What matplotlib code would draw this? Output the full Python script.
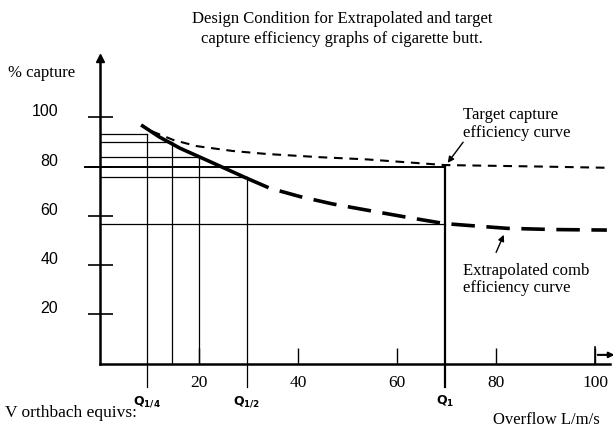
import matplotlib
matplotlib.use('Agg')
import matplotlib.pyplot as plt
import matplotlib.transforms as mtransforms

# Values (flow in L/m/s, capture in %)
comb_x = [8.3, 12.0, 16.2, 20.0, 24.2, 29.7, 34.3, 40.4, 47.0, 53.9, 62.0, 69.7, 82.2, 92.0, 102.4]
comb_y = [96.9, 92.0, 87.4, 84.0, 80.2, 75.2, 71.2, 67.8, 64.8, 62.3, 59.4, 56.8, 54.9, 54.4, 54.2]
target_x = [10.5, 14.8, 19.5, 26.9, 33.7, 44.4, 53.9, 69.7, 88.9, 102.4]
target_y = [94.3, 90.8, 88.3, 86.3, 85.1, 83.8, 82.9, 80.6, 80.0, 79.5]
solid_until = 29.7

# construction lines: (capture level, flow where they stop)
guide_levels = [93.1, 89.8, 84.0, 75.8]
guide_flows = [9.5, 14.6, 20.0, 29.7]
q1 = 69.7
q1_levels = [80.0, 56.8]

x_ticks = [20, 40, 60, 80, 100]
y_ticks = [20, 40, 60, 80, 100]
q_pos = [9.5, 29.7, 69.7]
q_labels = [r'$\mathbf{Q_{1/4}}$', r'$\mathbf{Q_{1/2}}$', r'$\mathbf{Q_{1}}$']

serif = 'Liberation Serif'
sans = 'Liberation Sans'

fig = plt.figure(figsize=(6.13, 4.29), dpi=100)
ax = fig.add_axes([100 / 613, (429 - 363.5) / 429, 103 * 4.95 / 613, 124 * 2.462 / 429])
ax.set_xlim(0, 103)
ax.set_ylim(0, 124)

for s in ['top', 'right']:
    ax.spines[s].set_visible(False)
for s in ['left', 'bottom']:
    ax.spines[s].set_linewidth(1.8)

# axis arrows
ax.plot(0, 1, '^k', ms=6, transform=ax.get_xaxis_transform(), clip_on=False)
ax.annotate('', xy=(104.5, 3.5), xytext=(100, 3.5), annotation_clip=False,
            arrowprops=dict(arrowstyle='-|>', color='k', lw=1.5, mutation_scale=8))
ax.plot([100, 100], [0, 6.5], color='k', lw=1.2)

ax.set_xticks(x_ticks)
ax.set_xticklabels([str(t) for t in x_ticks], fontfamily=serif, fontsize=12.5)
ax.tick_params(axis='x', direction='in', length=11.5, width=1.0, pad=8)
ax.set_yticks(y_ticks)
ax.set_yticklabels([str(t) for t in y_ticks], fontfamily=sans, fontsize=11.5)
ax.tick_params(axis='y', direction='inout', length=18, width=1.2, pad=21)
shift = mtransforms.ScaledTranslation(0, 5 / 72, fig.dpi_scale_trans)
for lbl in ax.get_yticklabels():
    lbl.set_transform(lbl.get_transform() + shift)

# construction lines
for lev, fl in zip(guide_levels, guide_flows):
    ax.plot([0, fl], [lev, lev], color='k', lw=0.9)
    ax.plot([fl, fl], [0, lev], color='k', lw=0.9)
ax.plot([-3, q1], [q1_levels[0], q1_levels[0]], color='k', lw=1.4, clip_on=False)
ax.plot([0, q1], [q1_levels[1], q1_levels[1]], color='k', lw=0.9)
ax.plot([q1, q1], [-9.5, q1_levels[0]], color='k', lw=1.6, clip_on=False)
for qp in q_pos[:2]:
    ax.plot([qp, qp], [-9.5, 0], color='k', lw=0.9, clip_on=False)

# curves
sx = [x for x in comb_x if x <= solid_until]
sy = comb_y[:len(sx)]
ax.plot(sx, sy, color='k', lw=2.6, solid_capstyle='butt')
dx = comb_x[len(sx) - 1:]
dy = comb_y[len(sx) - 1:]
ax.plot(dx, dy, color='k', lw=2.6, dashes=(6.5, 3.2), clip_on=False)
ax.plot(target_x, target_y, color='k', lw=1.5, dashes=(4.2, 3.2), clip_on=False)

# q labels below axis
for qp, ql in zip(q_pos, q_labels):
    ax.text(qp, -15.5, ql, ha='center', va='center', fontsize=9)

# annotations
ax.annotate('', xy=(69.9, 80.6), xytext=(73.7, 90.8),
            arrowprops=dict(arrowstyle='-|>', color='k', lw=1.0, mutation_scale=9))
ax.text(73.3, 97.3, 'Target capture\nefficiency curve', ha='left', va='center',
        fontfamily=serif, fontsize=12, linespacing=1.1)
ax.annotate('', xy=(81.8, 53.3), xytext=(79.8, 44.1),
            arrowprops=dict(arrowstyle='-|>', color='k', lw=1.0, mutation_scale=9))
ax.text(73.3, 34.1, 'Extrapolated comb\nefficiency curve', ha='left', va='center',
        fontfamily=serif, fontsize=12, linespacing=1.1)

fig.text(0.558, 1 - 29 / 429, 'Design Condition for Extrapolated and target\n'
         'capture efficiency graphs of cigarette butt.', ha='center', va='center',
         fontfamily=serif, fontsize=12, linespacing=1.3)
fig.text(8 / 613, 1 - 72.7 / 429, '% capture', ha='left', va='center',
         fontfamily=serif, fontsize=12)
fig.text(5 / 613, 1 - 413 / 429, 'V orthbach equivs:', ha='left', va='center',
         fontfamily=serif, fontsize=12.5)
fig.text(493 / 613, 1 - 420 / 429, 'Overflow L/m/s', ha='left', va='center',
         fontfamily=serif, fontsize=12)

fig.savefig('out.png', dpi=100)
